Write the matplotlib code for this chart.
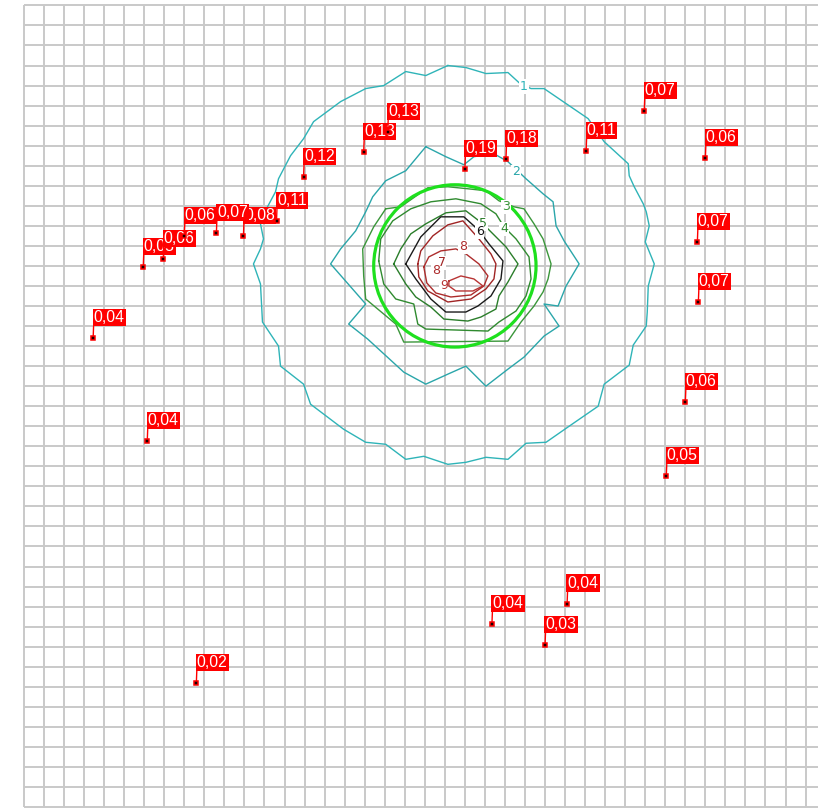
"""Mapa de isolíneas con puntos de muestreo etiquetados."""

import matplotlib

matplotlib.use("Agg")

import numpy as np
import matplotlib.pyplot as plt
from matplotlib import font_manager
from matplotlib.patches import Circle

# --- puntos de muestreo (coordenadas en unidades de malla, 20 por celda) ---
punto_x = [619, 680, 672, 673, 660, 641, 561, 481, 440, 339, 363, 279,
           252, 219, 192, 160, 119, 139, 69, 123, 172, 467, 542, 520]
punto_y = [695, 648, 564, 504, 404, 330, 655, 647, 637, 654, 674, 629,
           585, 570, 573, 570, 539, 547, 468, 365, 124, 183, 203, 162]
punto_val = [0.07, 0.06, 0.07, 0.07, 0.06, 0.05, 0.11, 0.18, 0.19, 0.13,
             0.13, 0.12, 0.11, 0.08, 0.07, 0.06, 0.05, 0.06, 0.04, 0.04,
             0.02, 0.04, 0.04, 0.03]

# --- isolíneas (vértices) ---
iso_1 = [(423, 740), (441, 738), (461, 732), (483, 733), (495, 722), (506, 717),
         (519, 717), (563, 687), (579, 664), (603, 642), (604, 630), (609, 619),
         (618, 602), (621, 594), (624, 580), (620, 564), (629, 542), (623, 520),
         (622, 494), (621, 480), (608, 461), (604, 441), (579, 422), (573, 400),
         (544, 380), (521, 364), (501, 363), (483, 347), (461, 349), (441, 344),
         (423, 342), (399, 350), (381, 347), (361, 362), (341, 364), (319, 377),
         (286, 402), (279, 422), (256, 440), (254, 460), (238, 484), (236, 522),
         (229, 542), (236, 557), (239, 567), (236, 582), (243, 599), (251, 614),
         (254, 627), (266, 650), (279, 667), (289, 684), (316, 704), (341, 717),
         (359, 720), (381, 734), (401, 730), (423, 740)]
iso_2 = [(401, 659), (421, 649), (439, 641), (449, 649), (469, 652), (483, 644),
         (501, 627), (518, 612), (528, 604), (531, 580), (539, 565), (554, 542),
         (541, 520), (533, 500), (519, 502), (534, 480), (519, 470), (499, 449),
         (483, 437), (461, 420), (441, 440), (423, 432), (401, 422), (379, 434),
         (343, 467), (324, 482), (341, 502), (306, 542), (316, 557), (331, 575),
         (341, 594), (348, 609), (361, 625), (381, 635), (401, 659)]
iso_3 = [(361, 597), (376, 599), (403, 618), (423, 619), (443, 617), (461, 615),
         (474, 605), (489, 599), (499, 597), (509, 582), (518, 567), (526, 542),
         (523, 527), (518, 514), (509, 500), (496, 484), (483, 465), (379, 464),
         (371, 482), (341, 507), (339, 530), (338, 557), (349, 579), (361, 597)]
iso_4 = [(354, 545), (356, 567), (368, 585), (386, 597), (406, 604), (431, 607),
         (456, 602), (471, 592), (479, 579), (491, 567), (504, 549), (506, 527),
         (501, 510), (491, 495), (474, 484), (463, 475), (401, 477), (393, 482),
         (389, 502), (371, 507), (359, 522), (354, 545)]
iso_5 = [(369, 542), (376, 557), (386, 572), (401, 582), (421, 593), (441, 595),
         (458, 582), (466, 574), (481, 559), (493, 542), (483, 524), (474, 510),
         (471, 497), (456, 489), (443, 485), (419, 487), (406, 499), (391, 509),
         (381, 522), (369, 542)]
iso_6 = [(381, 542), (396, 569), (411, 584), (416, 589), (439, 589), (449, 580),
         (455, 574), (464, 562), (478, 545), (476, 527), (466, 510), (453, 500),
         (441, 494), (421, 494), (406, 507), (391, 527), (381, 542)]
iso_7 = [(393, 542), (396, 555), (408, 570), (423, 581), (438, 585), (454, 567),
         (466, 552), (471, 542), (469, 527), (461, 517), (446, 507), (423, 504),
         (403, 515), (394, 529), (393, 542)]
iso_8 = [(399, 539), (404, 549), (416, 555), (431, 557), (441, 552), (454, 542),
         (463, 530), (459, 520), (446, 511), (426, 509), (411, 513), (402, 523),
         (399, 539)]
iso_9 = [(424, 525), (436, 530), (449, 527), (458, 520), (448, 515), (431, 515),
         (424, 520), (424, 525)]

isolineas = [iso_1, iso_2, iso_3, iso_4, iso_5, iso_6, iso_7, iso_8, iso_9]
iso_colores = ["#2fb4b8", "#2aa6aa", "#3a963a", "#2f8a2f", "#2a7d2a",
               "#1a1a1a", "#a02424", "#ad2c2c", "#b83434"]

# radio de influencia (círculo verde)
circulo_centro = (430, 540)
circulo_radio = 81

# rótulos de las isolíneas
rotulo_txt = ["1", "2", "3", "4", "5", "6", "7", "8", "8", "9"]
rotulo_x = [499, 491, 481, 479, 458, 455, 417, 438, 411, 419]
rotulo_y = [719, 634, 599, 577, 582, 574, 543, 559, 535, 520]
rotulo_col = ["#2fb4b8", "#2aa6aa", "#3a963a", "#2f8a2f", "#2a7d2a",
              "#111111", "#a02424", "#ad2c2c", "#ad2c2c", "#b83434"]

malla_x = np.arange(0, 781, 20)
malla_y = np.arange(0, 801, 20)

ROJO = "#ff0000"


def fuente_etiquetas():
    nombres = {f.name for f in font_manager.fontManager.ttflist}
    if "Liberation Sans Narrow" in nombres:
        return "Liberation Sans Narrow", 13
    return "Liberation Sans", 11.3


def main() -> None:
    fig = plt.figure(figsize=(8.18, 8.09), dpi=100)
    ax = fig.add_axes([0, 0, 1, 1])
    ax.set_xlim(-23.95, 792.4)
    ax.set_ylim(-2.0, 805.4)
    ax.axis("off")

    # malla
    ax.vlines(malla_x, 0, 800, color="#c9c9c9", lw=1.4, zorder=0.5)
    ax.hlines(malla_y, 0, 800, color="#c9c9c9", lw=1.4, zorder=0.5)

    # isolíneas
    for pts, col in zip(isolineas, iso_colores):
        xs, ys = zip(*pts)
        ax.plot(xs, ys, color=col, lw=1.0, zorder=2)

    ax.add_patch(Circle(circulo_centro, circulo_radio, fill=False,
                        ec="#1ee01e", lw=2.3, zorder=2.5))

    for t, x, y, c in zip(rotulo_txt, rotulo_x, rotulo_y, rotulo_col):
        ax.text(x, y, t, color=c, fontsize=9, ha="center", va="center",
                bbox=dict(boxstyle="square,pad=0.05", fc="white", ec="none"),
                zorder=3)

    # puntos con etiqueta
    familia, tam = fuente_etiquetas()
    for x, y, v in zip(punto_x, punto_y, punto_val):
        txt = f"{v:.2f}".replace(".", ",")
        ax.annotate(txt, xy=(x, y), xytext=(0.5, 13), textcoords="offset pixels",
                    ha="left", va="bottom", color="white", fontsize=tam,
                    family=familia, zorder=4,
                    bbox=dict(boxstyle="square,pad=0.07", fc=ROJO, ec="none"),
                    arrowprops=dict(arrowstyle="-", color=ROJO, lw=1.0,
                                    shrinkA=0, shrinkB=0, relpos=(0, 0)))
    ax.plot(punto_x, punto_y, ls="none", marker="s", ms=3, mfc="#1a0000",
            mec=ROJO, mew=1.1, zorder=5)

    fig.savefig("out.png", dpi=100)


if __name__ == "__main__":
    main()
